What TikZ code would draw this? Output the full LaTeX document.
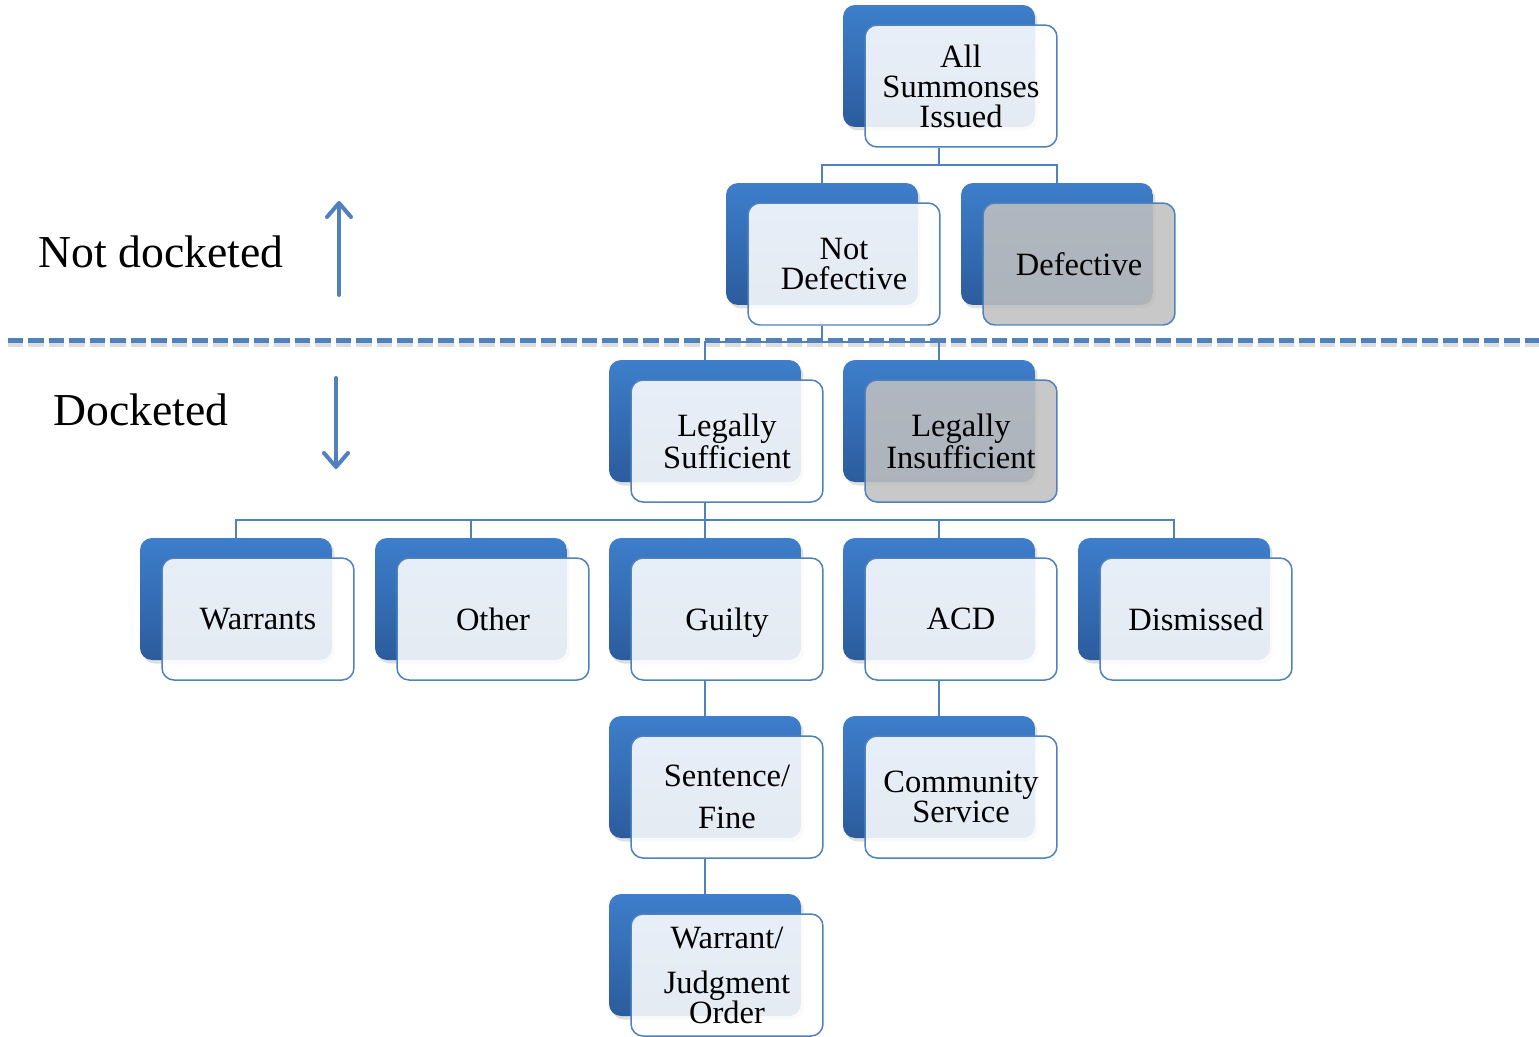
\documentclass[tikz,border=0pt]{standalone}
\usepackage{fontspec}
\setmainfont{Liberation Serif}
\usetikzlibrary{arrows.meta,shadows}
\pgfdeclarelayer{background}
\pgfsetlayers{background,main}
\definecolor{boxblue}{RGB}{62,126,203}
\definecolor{boxdark}{RGB}{43,92,157}
\definecolor{linkblue}{RGB}{79,129,189}
\definecolor{boxgrey}{RGB}{192,192,192}

\begin{document}
\begin{tikzpicture}[x=0.02cm, y=-0.02cm,
  backbox/.style={rounded corners=0.24cm, minimum width=3.84cm, minimum height=2.44cm,
    top color=boxblue, bottom color=boxdark,
    drop shadow={shadow xshift=0.05cm, shadow yshift=-0.07cm, opacity=0.25}},
  frontbox/.style={draw=linkblue, line width=0.03cm, rounded corners=0.24cm,
    minimum width=3.84cm, minimum height=2.44cm, fill=white, fill opacity=0.88,
    text opacity=1, align=center, text depth=0pt, font=\fontsize{18.5}{17}\selectfont},
  greybox/.style={frontbox, fill=boxgrey},
  link/.style={draw=linkblue, line width=0.03cm},
  divider/.style={line width=0.1cm, dash pattern=on 0.31cm off 0.1cm},
  sidearrow/.style={draw=linkblue, line width=0.08cm, line cap=round,
    -{Straight Barb[length=0.28cm, width=0.48cm, line cap=round, line join=round]}},
  sidelabel/.style={font=\fontsize{26}{30}\selectfont}
]
\useasboundingbox (0,0) rectangle (1539,1036);

% top of the tree
\node[backbox] (allB) at (939,66) {};
\node[frontbox] (all) at (961,86) {All\\Summonses\\Issued};

\node[backbox] (ndB) at (822,244) {};
\node[frontbox] (nd) at (844,264) {Not\\Defective};
\node[backbox] (defB) at (1057,244) {};
\node[greybox] (def) at (1079,264) {Defective};

% docketed part
\node[backbox] (lsB) at (705,421) {};
\node[frontbox] (ls) at (727,441) {Legally\\Sufficient};
\node[backbox] (liB) at (939,421) {};
\node[greybox] (li) at (961,441) {Legally\\Insufficient};

\node[backbox] (warB) at (236,599) {};
\node[frontbox] (war) at (258,619) {Warrants};
\node[backbox] (othB) at (471,599) {};
\node[frontbox] (oth) at (493,619) {Other};
\node[backbox] (guiB) at (705,599) {};
\node[frontbox] (gui) at (727,619) {Guilty};
\node[backbox] (acdB) at (939,599) {};
\node[frontbox] (acd) at (961,619) {ACD};
\node[backbox] (disB) at (1174,599) {};
\node[frontbox] (dis) at (1196,619) {Dismissed};

\node[backbox] (senB) at (705,777) {};
\node[frontbox] (sen) at (727,797) {Sentence/\\[0.24cm]Fine};
\node[backbox] (comB) at (939,777) {};
\node[frontbox] (com) at (961,797) {Community\\Service};

\node[backbox] (wjoB) at (705,955) {};
\node[frontbox] (wjo) at (727,975) {Warrant/\\[0.3cm]Judgment\\Order};

% side labels
\node[sidelabel] (notdock) at (161,252) {Not docketed};
\node[sidelabel] (dock) at (141,410) {Docketed};
\coordinate (upS) at (339,295);
\coordinate (upE) at (339,201);
\coordinate (dnS) at (336,378);
\coordinate (dnE) at (336,469);
\draw[sidearrow] (upS) -- (upE);
\draw[sidearrow] (dnS) -- (dnE);

\coordinate (bus1) at (0,165);
\coordinate (bus2) at (0,342);
\coordinate (bus3) at (0,520);
\coordinate (divL) at (8,340);
\coordinate (divR) at (1539,340);

\begin{pgfonlayer}{background}
\draw[divider, black!22, opacity=0.6] ([yshift=-0.09cm]divL) -- ([yshift=-0.09cm]divR);
\draw[divider, linkblue] (divL) -- (divR);

\draw[link] (allB |- all.south) -- (allB |- bus1);
\draw[link] (ndB.north) |- (defB |- bus1) -- (defB.north);

\draw[link] (ndB |- nd.south) -- (ndB |- bus2);
\draw[link] (lsB.north) |- (liB |- bus2) -- (liB.north);

\draw[link] (lsB |- ls.south) -- (lsB |- bus3);
\draw[link] (warB.north) |- (disB |- bus3) -- (disB.north);
\foreach \b in {othB,guiB,acdB}
  \draw[link] (\b.north) -- (\b |- bus3);

\draw[link] (guiB |- gui.south) -- (senB.north);
\draw[link] (acdB |- acd.south) -- (comB.north);
\draw[link] (senB |- sen.south) -- (wjoB.north);
\end{pgfonlayer}
\end{tikzpicture}
\end{document}
